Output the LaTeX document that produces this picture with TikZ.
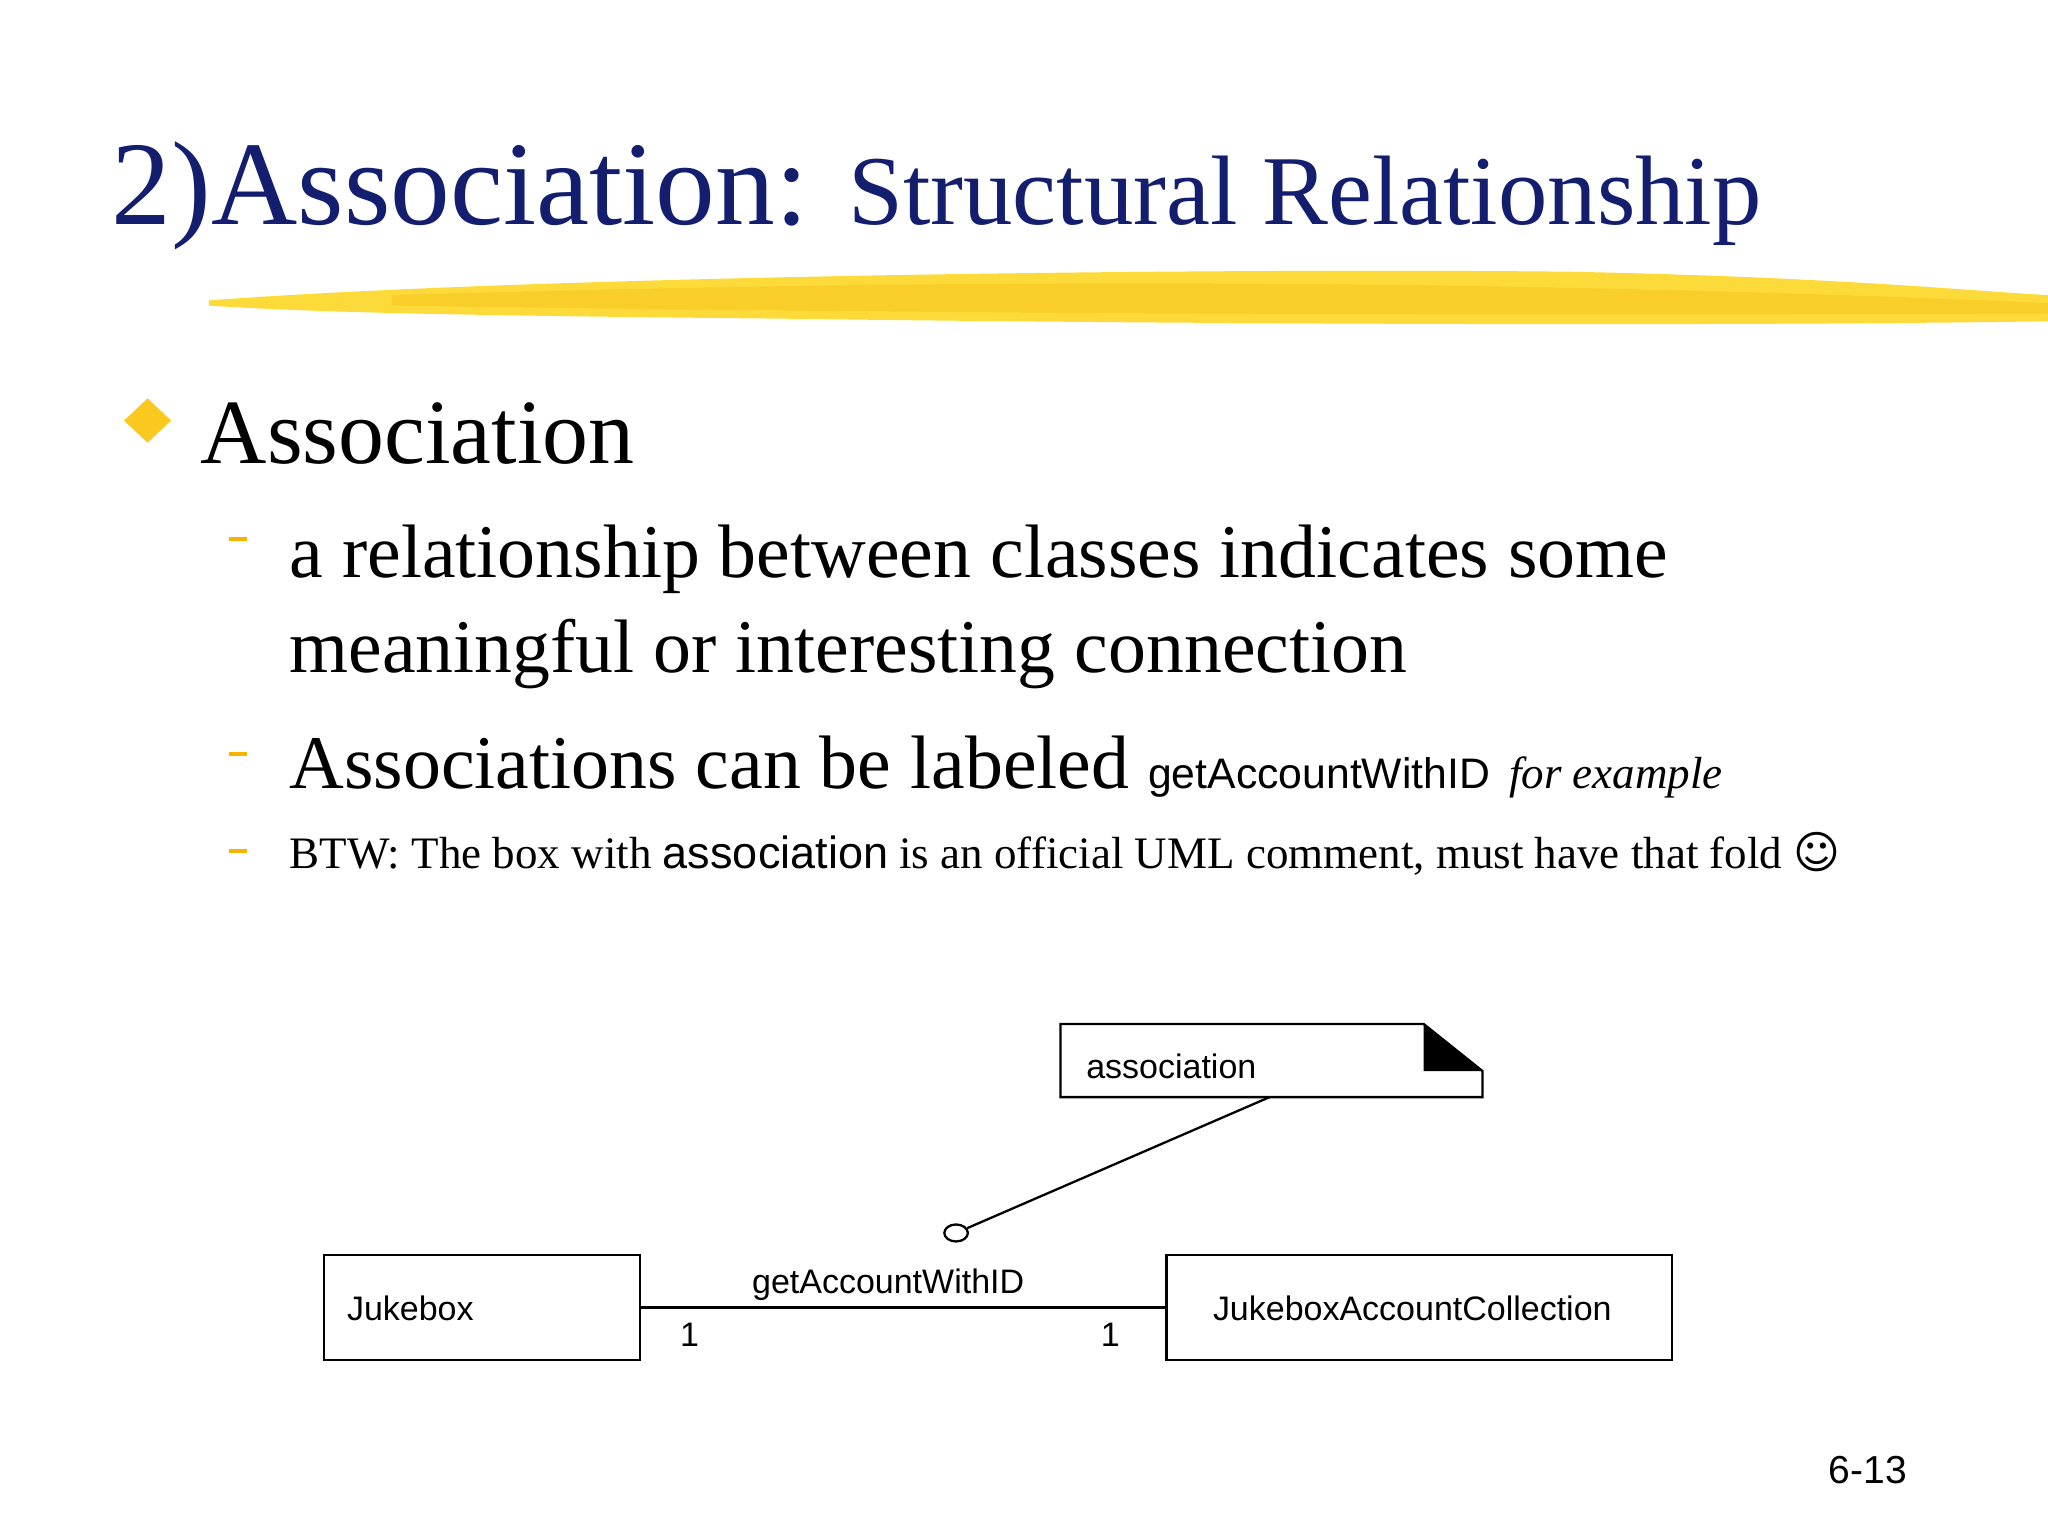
\documentclass[tikz,border=0pt]{standalone}
\usepackage{fontspec}
\usetikzlibrary{shapes.geometric}
\setmainfont{Liberation Serif}
\setsansfont{Liberation Sans}
\newfontfamily\djv{DejaVu Sans}
\definecolor{navy}{RGB}{20,30,110}
\definecolor{gold}{RGB}{250,200,30}
\definecolor{dashc}{RGB}{245,180,0}
\tikzset{cls/.style={draw,line width=0.5pt},lbl/.style={font=\sffamily\fontsize{7.4}{8}\selectfont,inner sep=0pt}}
\begin{document}
\begin{tikzpicture}[x=0.01cm,y=-0.01cm]
\useasboundingbox (0,0) rectangle (1568,1176);
% title
\node[anchor=base west,inner sep=0,text=navy] (title) at (85,172) {\fontsize{26}{30}\selectfont 2)Association: \fontsize{21.5}{26}\selectfont Structural Relationship};
% brush stroke
\fill[gold!80!yellow,opacity=0.85] (160,230) .. controls (400,212) and (900,205) .. (1200,208) .. controls (1400,212) and (1500,222) .. (1568,226) -- (1568,246) .. controls (1300,250) and (900,248) .. (600,244) .. controls (400,242) and (250,240) .. (160,234) -- cycle;
\fill[gold,opacity=0.6] (300,226) .. controls (700,214) and (1100,212) .. (1568,232) -- (1568,240) .. controls (1100,242) and (700,240) .. (300,234) -- cycle;
% bullets
\fill[gold] (113,305) -- (131,322) -- (113,339) -- (95,322) -- cycle;
\node[anchor=base west,inner sep=0] (b1) at (153,355) {\fontsize{20}{24}\selectfont Association};
\foreach \yy in {411,576,650} \fill[dashc] (175,\yy) rectangle (189,\yy+3);
\node[anchor=base west,inner sep=0] (s1) at (221,442) {\fontsize{16.5}{20}\selectfont a relationship between classes indicates some};
\node[anchor=base west,inner sep=0] (s1b) at (221,515) {\fontsize{16.5}{20}\selectfont meaningful or interesting connection};
\node[anchor=base west,inner sep=0] (s2) at (221,604) {\fontsize{16.5}{20}\selectfont Associations can be labeled {\sffamily\fontsize{9.3}{11}\selectfont getAccountWithID} {\itshape\fontsize{9.8}{11}\selectfont for example}};
\node[anchor=base west,inner sep=0] (s3) at (221,665) {\fontsize{9.8}{12}\selectfont BTW: The box with {\sffamily association} is an official UML comment, must have that fold {\djv ☺}};
% diagram
\draw[cls] (812,784) -- (1090,784) -- (1135,820) -- (1135,840) -- (812,840) -- cycle;
\fill (1090,784) -- (1135,820) -- (1090,820) -- cycle;
\node[lbl,anchor=base west] (nt) at (831,826) {association};
\coordinate (np) at (972,840);
\draw[cls] (248,961) rectangle (490,1041);
\node[lbl,anchor=base west] (jb) at (265,1011) {Jukebox};
\draw[cls] (893,961) rectangle (1280,1041);
\node[lbl,anchor=base west] (jac) at (928,1011) {JukeboxAccountCollection};
\coordinate (l) at (490,1001); \coordinate (r) at (893,1001);
\draw[cls] (l) -- (r);
\node[lbl,anchor=base] (al) at (680,990) {getAccountWithID};
\node[lbl,anchor=base] (m1) at (528,1031) {1};
\node[lbl,anchor=base] (m2) at (850,1031) {1};
\node[draw,ellipse,minimum width=0.18cm,minimum height=0.13cm,inner sep=0,line width=0.5pt] (c) at (732,944) {};
\draw[cls] (np) -- (c);
\node[lbl,anchor=base,font=\sffamily\fontsize{8.5}{10}\selectfont] (pg) at (1430,1136) {6-13};
\end{tikzpicture}
\end{document}
